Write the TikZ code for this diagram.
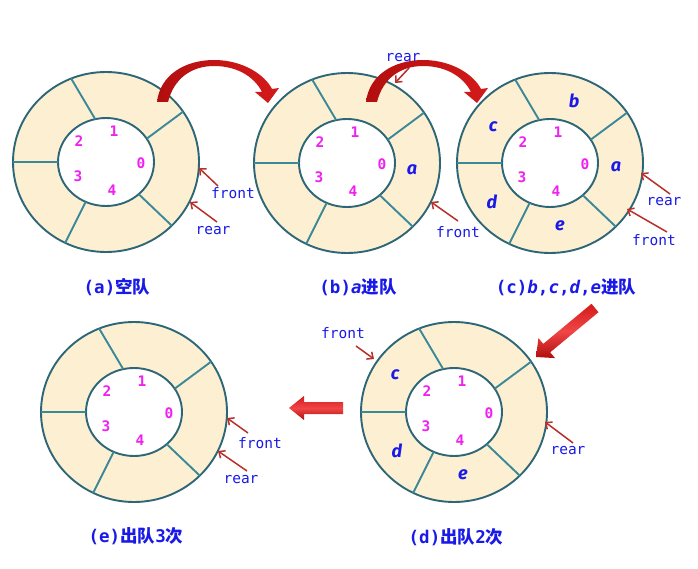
\documentclass[tikz,border=0pt]{standalone}
\usepackage{fontspec}
\usetikzlibrary{arrows.meta,calc}
\setmonofont{DejaVu Sans Mono}
\newfontfamily\cjk{Noto Sans CJK SC}
\newfontfamily\itl{Fira Sans}
\definecolor{ringfill}{HTML}{FDF0D2}
\definecolor{ringline}{HTML}{2C6677}
\definecolor{divline}{HTML}{3A8898}
\definecolor{lblue}{HTML}{1A1AE8}
\definecolor{mag}{HTML}{F020F0}
\definecolor{ptrred}{HTML}{B8302A}
\definecolor{bigred}{HTML}{D41A1A}
\definecolor{bigdark}{HTML}{B20E0E}
\definecolor{biglight}{HTML}{F04646}
\tikzset{
  numlbl/.style={text=mag, font=\ttfamily\bfseries\fontsize{14.5}{14.5}\selectfont, inner sep=0pt},
  ptrlbl/.style={text=lblue, font=\ttfamily\fontsize{14.5}{14.5}\selectfont, inner sep=0pt},
  elem/.style={text=lblue, font=\itl\itshape\bfseries\fontsize{18}{18}\selectfont, inner sep=0pt},
  caption/.style={text=lblue, font=\ttfamily\bfseries\fontsize{17.5}{17.5}\selectfont, inner sep=0pt},
  ptr/.style={draw=ptrred, line width=1.5pt, -{Straight Barb[length=5pt,width=9pt]}},
  qring/.pic={
    \coordinate (-c) at (0,0);
    \path[fill=ringfill, draw=ringline, line width=1.9pt] (0,0) ellipse [x radius=93, y radius=90];
    \path[fill=white, draw=ringline, line width=1.9pt] (0,0) ellipse [x radius=48, y radius=44];
    \foreach \ta/\tb in {32/34,103/112,180/180,245/244,313/315}
      \draw[divline, line width=1.9pt] ({48*cos(\ta)},{-44*sin(\ta)}) -- ({93*cos(\tb)},{-90*sin(\tb)});
    \node[numlbl] (-n0) at (35,1) {0};
    \node[numlbl] (-n1) at (8,-31) {1};
    \node[numlbl] (-n2) at (-27,-21) {2};
    \node[numlbl] (-n3) at (-28,14) {3};
    \node[numlbl] (-n4) at (6,28) {4};
  }
}
\begin{document}
\begin{tikzpicture}[x=1pt,y=-1pt]
\path[fill=white] (0,0) rectangle (698,569);
\useasboundingbox (0,0) rectangle (698,569);

% rings
\pic (ringA) at (106,162) {qring};
\pic (ringB) at (347,163) {qring};
\pic (ringC) at (550,163) {qring};
\pic (ringD) at (454,412) {qring};
\pic (ringE) at (134,412) {qring};

% elements
\node[elem] (bA) at ($(ringB-c)+(65,7)$) {a};
\node[elem] (cA) at ($(ringC-c)+(66,4)$) {a};
\node[elem] (cB) at ($(ringC-c)+(24,-62)$) {b};
\node[elem] (cC) at ($(ringC-c)+(-57,-36)$) {c};
\node[elem] (cD) at ($(ringC-c)+(-58,39)$) {d};
\node[elem] (cE) at ($(ringC-c)+(10,63)$) {e};
\node[elem] (dC) at ($(ringD-c)+(-59,-37)$) {c};
\node[elem] (dD) at ($(ringD-c)+(-57,39)$) {d};
\node[elem] (dE) at ($(ringD-c)+(9,63)$) {e};

% big curved arrows
\foreach \dx in {0,209}{
  \begin{scope}[xshift=\dx]
    \shade[left color=bigdark, right color=bigred]
      (157,102) .. controls (160,75) and (185,60) .. (214,60)
      .. controls (243,60) and (265,75) .. (272,89)
      -- (279,88) -- (268,103) -- (255,92) -- (262,92)
      .. controls (254,76) and (236,66) .. (214,66)
      .. controls (192,66) and (174,78) .. (168,102) -- cycle;
  \end{scope}
}
% diagonal arrow
\shade[shading=axis, shading angle=40, top color=bigred, bottom color=bigdark, middle color=biglight]
  (536,357) -- (555.0,358.1) -- (550.2,352.3) -- (598.5,312.2) -- (591.5,303.8)
  -- (543.2,343.9) -- (538.4,338.1) -- cycle;
% horizontal arrow
\shade[top color=bigred, bottom color=bigdark, middle color=biglight]
  (289,408) -- (304,396) -- (304,402) -- (343,402) -- (343,414) -- (304,414) -- (304,420) -- cycle;

% pointer labels and arrows
% (a)
\node[ptrlbl] (aF) at (233,193) {front};
\node[ptrlbl] (aR) at (213,231) {rear};
\coordinate (aFs) at (218,186); \coordinate (aFt) at (199,168);
\coordinate (aRs) at (217,222); \coordinate (aRt) at (190,202);
\draw[ptr] (aFs) -- (aFt);
\draw[ptr] (aRs) -- (aRt);
% (b)
\node[ptrlbl] (bR) at (403,58) {rear};
\node[ptrlbl] (bF) at (458,232) {front};
\coordinate (bRs) at (409,68); \coordinate (bRt) at (395,83);
\coordinate (bFs) at (458,221); \coordinate (bFt) at (431,202);
\draw[ptr] (bRs) -- (bRt);
\draw[ptr] (bFs) -- (bFt);
% (c)
\node[ptrlbl] (cR) at (664,202) {rear};
\node[ptrlbl] (cF) at (654,240) {front};
\coordinate (cRs) at (670,194); \coordinate (cRt) at (641,173);
\coordinate (cFs) at (667,232); \coordinate (cFt) at (627,209);
\draw[ptr] (cRs) -- (cRt);
\draw[ptr] (cFs) -- (cFt);
% (d)
\node[ptrlbl] (dF) at (343,333) {front};
\node[ptrlbl] (dR) at (568,451) {rear};
\coordinate (dFs) at (356,346); \coordinate (dFt) at (374,359);
\coordinate (dRs) at (573,443); \coordinate (dRt) at (545,422);
\draw[ptr] (dFs) -- (dFt);
\draw[ptr] (dRs) -- (dRt);
% (e)
\node[ptrlbl] (eF) at (260,443) {front};
\node[ptrlbl] (eR) at (241,480) {rear};
\coordinate (eFs) at (248,433); \coordinate (eFt) at (227,418);
\coordinate (eRs) at (247,471); \coordinate (eRt) at (218,451);
\draw[ptr] (eFs) -- (eFt);
\draw[ptr] (eRs) -- (eRt);

% captions
\node[caption] (capA) at (117,287) {(a){\cjk\bfseries 空队}};
\node[caption] (capB) at (358,287) {(b){\itshape a}{\cjk\bfseries 进队}};
\node[caption] (capC) at (566,287) {(c){\itshape b},{\itshape c},{\itshape d},{\itshape e}{\cjk\bfseries 进队}};
\node[caption] (capE) at (136,536) {(e){\cjk\bfseries 出队}3{\cjk\bfseries 次}};
\node[caption] (capD) at (456,537) {(d){\cjk\bfseries 出队}2{\cjk\bfseries 次}};
\end{tikzpicture}
\end{document}
